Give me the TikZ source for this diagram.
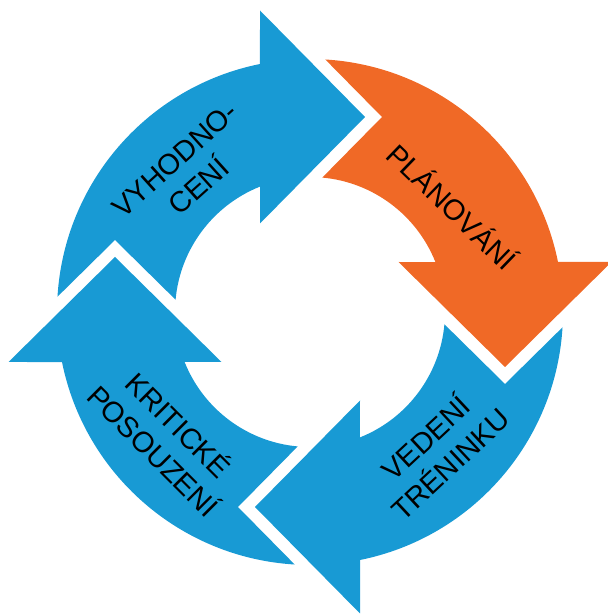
\documentclass[tikz,border=0pt]{standalone}
\usepackage{fontspec}
\setmainfont{Liberation Sans}
\definecolor{cycblue}{RGB}{24,154,212}
\definecolor{cycorange}{RGB}{240,105,38}
\tikzset{
  cyclabel/.style={text=black, align=center, inner sep=0pt,
    font=\fontsize{29}{36}\selectfont},
}
\newcommand{\cycarrow}{%
  (-50,301.5) -- (55,195) -- (-50,88.5) -- (111.7:135)
  arc[start angle=111.7, end angle=174.77, radius=135]
  -- (-195,72) -- (176.53:253)
  arc[start angle=176.53, end angle=101.4, radius=253] -- cycle}
\begin{document}
\begin{tikzpicture}[x=1pt,y=1pt]
\useasboundingbox (0,0) rectangle (608,614);
\begin{scope}[shift={(310,302)}]
  \fill[cycblue]   \cycarrow;
  \fill[cycorange, rotate=-90] \cycarrow;
  \fill[cycblue, rotate=180] \cycarrow;
  \fill[cycblue, rotate=90] \cycarrow;
\end{scope}
\node[cyclabel, rotate=42] (vyh) at (187,441) {VYHODNO-\\CENÍ};
\node[cyclabel, rotate=-44] (plan) at (453,408) {PLÁNOVÁNÍ};
\node[cyclabel, rotate=43] (ved) at (437,164) {VEDENÍ\\TRÉNINKU};
\node[cyclabel, rotate=-45] (krit) at (167,177) {KRITICKÉ\\POSOUZENÍ};
\end{tikzpicture}
\end{document}
